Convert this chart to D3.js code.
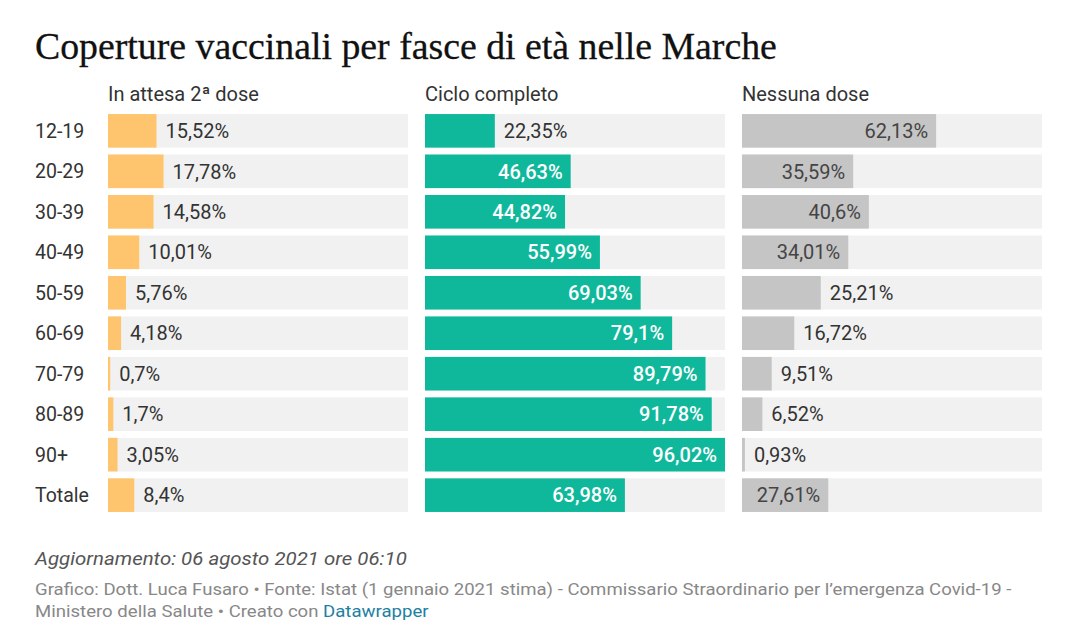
<!DOCTYPE html>
<html>
<head>
<meta charset="utf-8">
<script src="https://cdn.jsdelivr.net/npm/d3@7"></script>
<style>
  body { margin: 0; background: #fff; }
  svg { display: block; }
</style>
</head>
<body>
<div id="chart"></div>
<script>
const ageGroups = ["12-19", "20-29", "30-39", "40-49", "50-59", "60-69", "70-79", "80-89", "90+", "Totale"];
const seriesNames = ["In attesa 2ª dose", "Ciclo completo", "Nessuna dose"];
const attesaSeconda = [15.52, 17.78, 14.58, 10.01, 5.76, 4.18, 0.7, 1.7, 3.05, 8.4];
const cicloCompleto = [22.35, 46.63, 44.82, 55.99, 69.03, 79.1, 89.79, 91.78, 96.02, 63.98];
const nessunaDose = [62.13, 35.59, 40.6, 34.01, 25.21, 16.72, 9.51, 6.52, 0.93, 27.61];

const width = 1080;
const height = 634;
const font = "Roboto, 'Noto Sans', sans-serif";

const panels = [
  { name: seriesNames[0], values: attesaSeconda, x0: 108, color: "#fec56e", inside: "#333" },
  { name: seriesNames[1], values: cicloCompleto, x0: 425, color: "#10b89b", inside: "#fff" },
  { name: seriesNames[2], values: nessunaDose, x0: 742, color: "#c5c5c5", inside: "#444" },
];
const panelW = 300;

const fmt = (v) => String(v).replace(".", ",") + "%";

let svg = d3.select("#chart").append("svg")
  .attr("width", width)
  .attr("height", height);

// title
let title = svg.append("text")
  .attr("x", 35)
  .attr("y", 59)
  .attr("font-family", "'Liberation Serif', 'DejaVu Serif', serif")
  .attr("font-size", 34)
  .attr("fill", "#111")
  .attr("stroke", "#111")
  .attr("stroke-width", 0.3)
  .text("Coperture vaccinali per fasce di età nelle Marche");
let tw = title.node().getComputedTextLength();
title.attr("font-size", 34 * 742 / tw);

let y = d3.scaleBand()
  .domain(ageGroups)
  .range([110.6, 515.4])
  .paddingInner(0.17)
  .paddingOuter(0.085);

let x = d3.scaleLinear()
  .domain([0, d3.max([...attesaSeconda, ...cicloCompleto, ...nessunaDose])])
  .range([0, panelW]);

// row labels
svg.append("g")
  .selectAll("text")
  .data(ageGroups)
  .join("text")
  .attr("x", 35)
  .attr("y", (d) => y(d) + y.bandwidth() / 2)
  .attr("dy", "0.36em")
  .attr("font-family", font)
  .attr("font-size", 19.5)
  .attr("fill", "#333")
  .text((d) => d);

panels.forEach((p) => {
  let g = svg.append("g").attr("transform", `translate(${p.x0},0)`);

  g.append("text")
    .attr("x", 0)
    .attr("y", 101)
    .attr("font-family", font)
    .attr("font-size", 20)
    .attr("fill", "#333")
    .text(p.name);

  let rows = g.selectAll("g.row")
    .data(ageGroups.map((a, i) => ({ age: a, v: p.values[i] })))
    .join("g")
    .attr("class", "row");

  rows.append("rect")
    .attr("x", 0)
    .attr("y", (d) => y(d.age))
    .attr("width", panelW)
    .attr("height", y.bandwidth())
    .attr("fill", "#f1f1f1");

  rows.append("rect")
    .attr("x", 0)
    .attr("y", (d) => y(d.age))
    .attr("width", (d) => x(d.v))
    .attr("height", y.bandwidth())
    .attr("fill", p.color);

  rows.append("text")
    .attr("y", (d) => y(d.age) + y.bandwidth() / 2)
    .attr("dy", "0.36em")
    .attr("font-family", font)
    .attr("font-size", 20)
    .text((d) => fmt(d.v))
    .each(function (d) {
      let t = d3.select(this);
      let w = this.getComputedTextLength();
      let bw = x(d.v);
      if (bw > w + 18) {
        t.attr("x", bw - 8)
          .attr("text-anchor", "end")
          .attr("fill", p.inside)
          .attr("font-weight", p.inside == "#fff" ? 500 : 400);
      } else {
        t.attr("x", bw + 9).attr("fill", "#333");
      }
    });
});

// footer, stretched a bit wider like the screenshot
let upd = svg.append("g");
let updText = upd.append("text")
  .attr("x", 0)
  .attr("y", 565)
  .attr("font-family", font)
  .attr("font-style", "italic")
  .attr("font-size", 18)
  .attr("fill", "#555")
  .text("Aggiornamento: 06 agosto 2021 ore 06:10");
let k1 = 372 / updText.node().getComputedTextLength();
upd.attr("transform", `translate(35,0) scale(${k1},1)`);

let foot = svg.append("g");
let notes = foot.append("text")
  .attr("font-family", font)
  .attr("font-size", 16)
  .attr("fill", "#888");
let line1 = notes.append("tspan")
  .attr("x", 0)
  .attr("y", 595)
  .text("Grafico: Dott. Luca Fusaro • Fonte: Istat (1 gennaio 2021 stima) - Commissario Straordinario per l’emergenza Covid-19 -");
notes.append("tspan")
  .attr("x", 0)
  .attr("y", 617)
  .text("Ministero della Salute • Creato con ");
notes.append("tspan")
  .attr("fill", "#1d81a2")
  .text("Datawrapper");
let k2 = 977 / line1.node().getComputedTextLength();
foot.attr("transform", `translate(35,0) scale(${k2},1)`);
</script>
</body>
</html>
